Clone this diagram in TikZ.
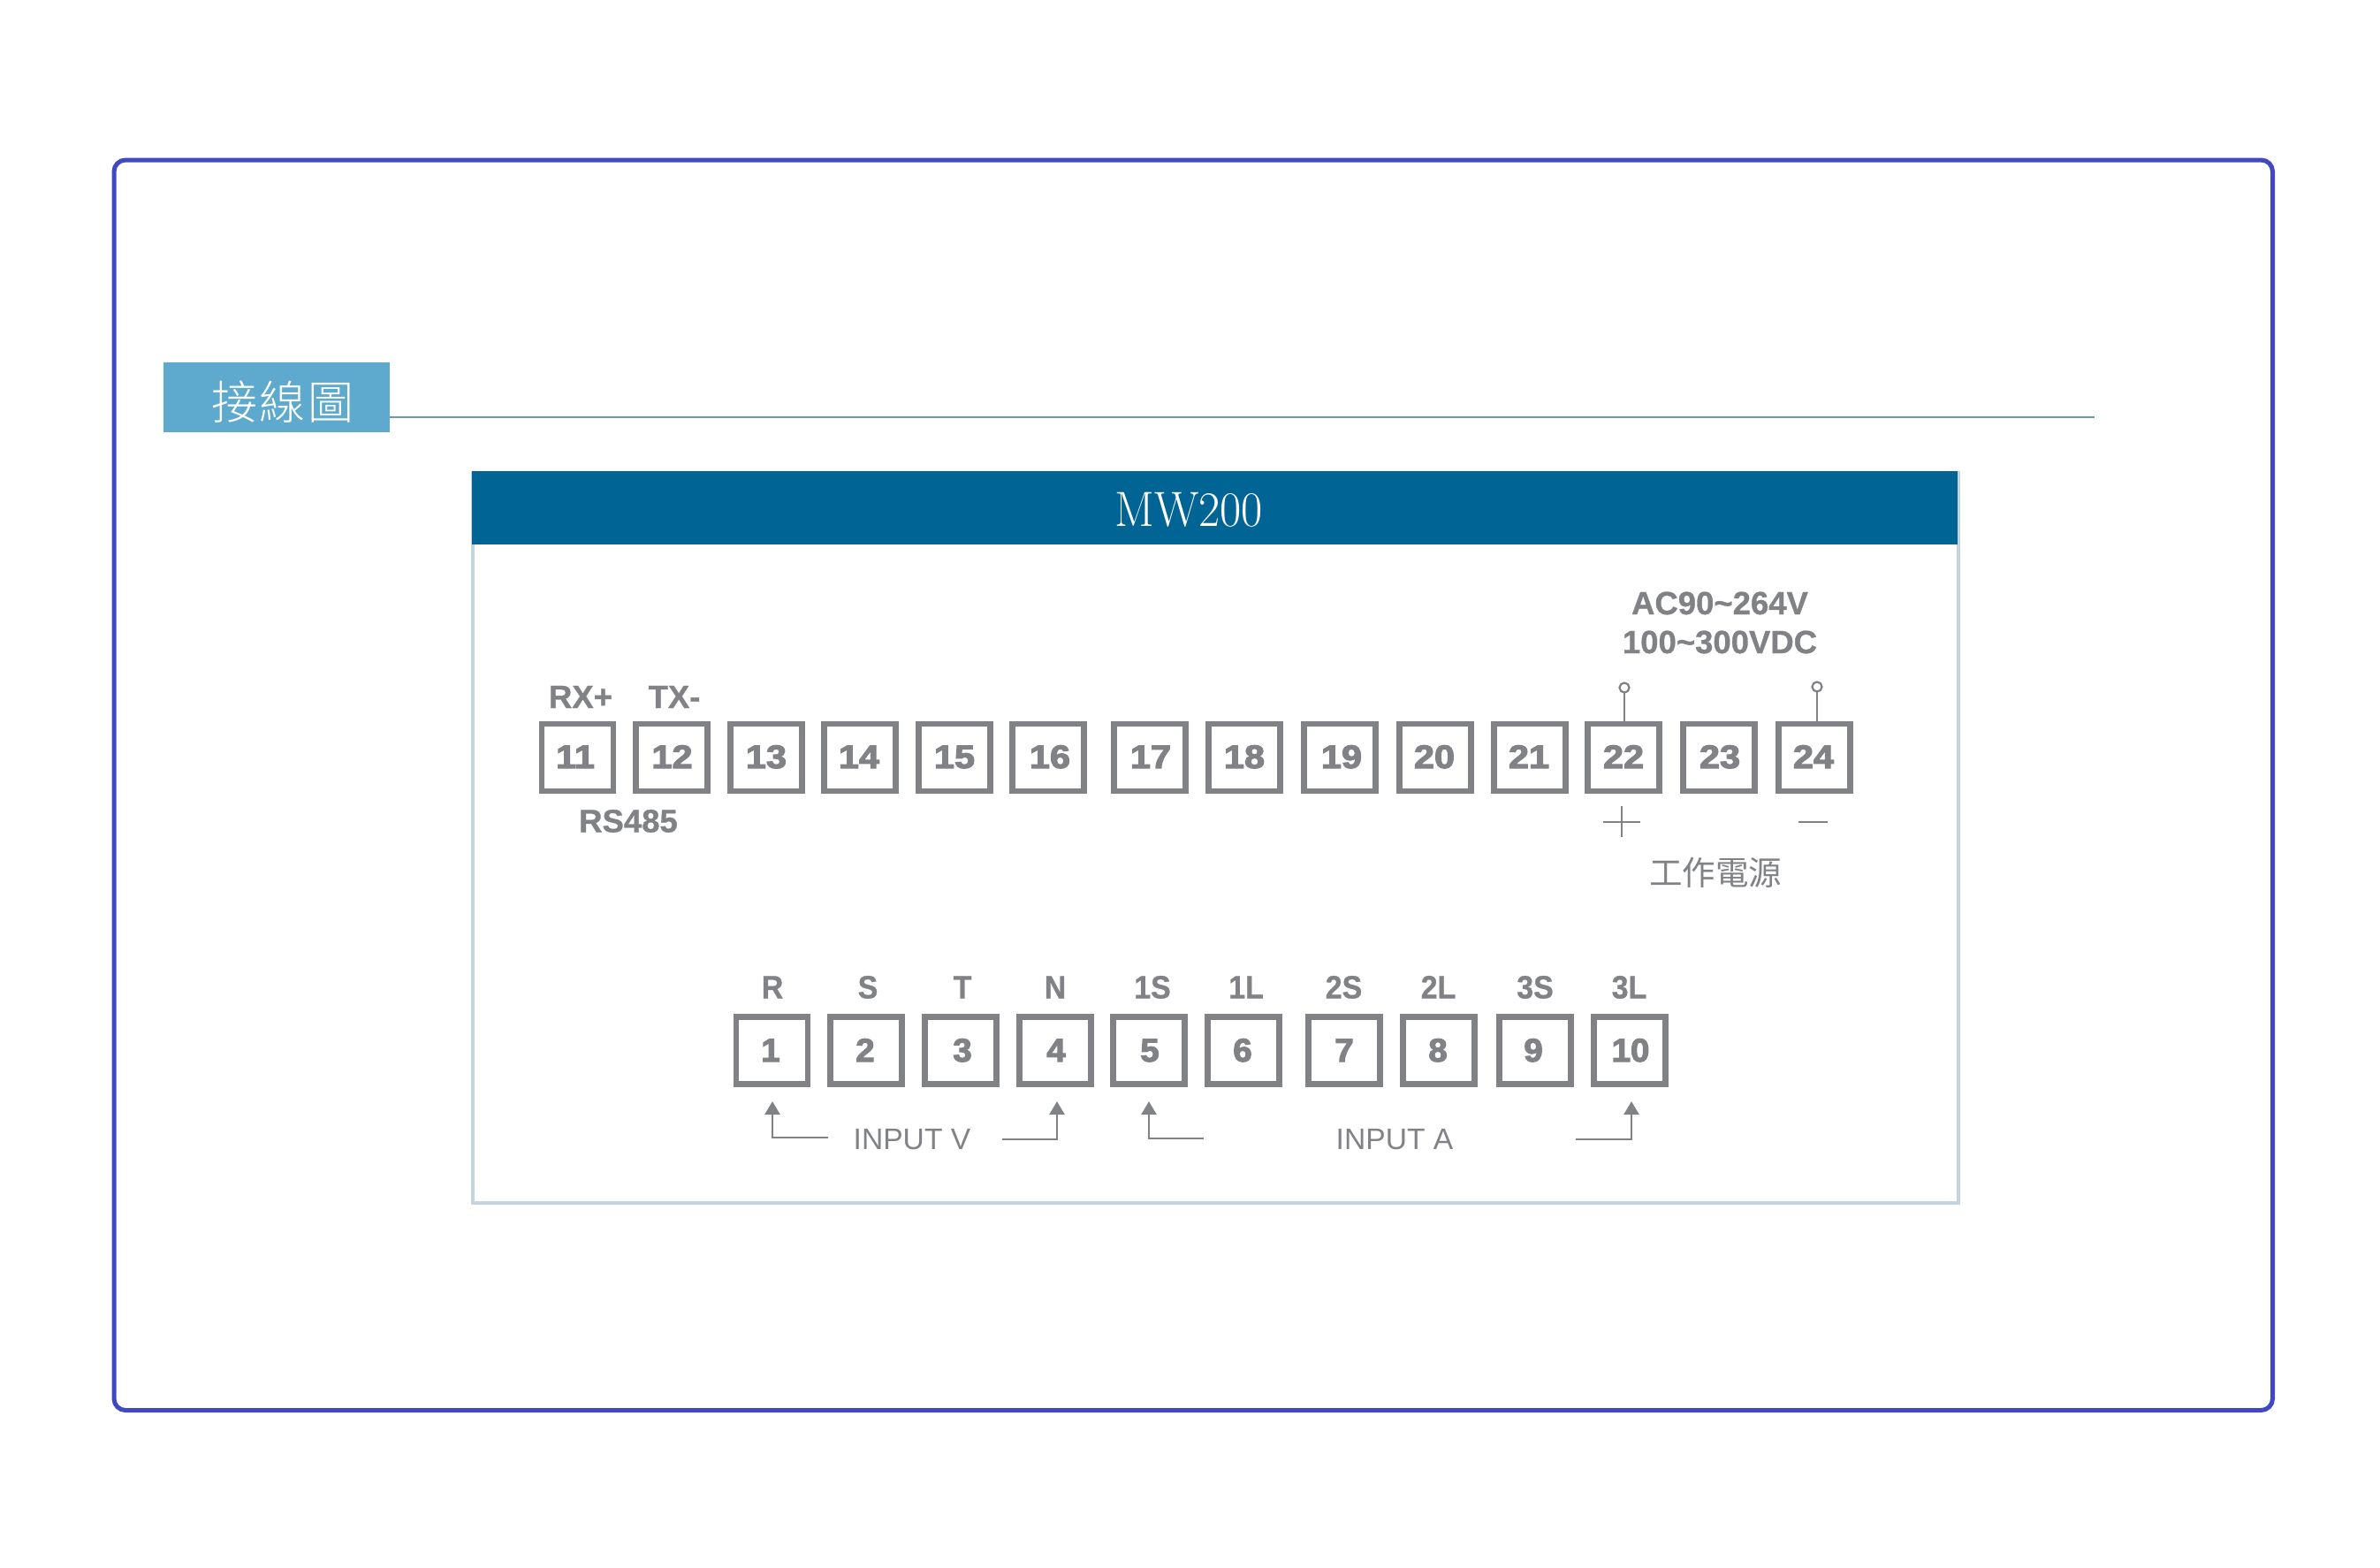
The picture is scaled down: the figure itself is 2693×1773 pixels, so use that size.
\documentclass[tikz,border=0pt]{standalone}
\usepackage{fontspec}
\setmainfont{Liberation Sans}
\newfontfamily\cjk{Noto Sans CJK TC}
\newfontfamily\cjklight[LetterSpace=5]{Noto Sans CJK TC Light}
\newfontfamily\serifface{Latin Modern Roman}
\newfontfamily\heavy[FakeBold=3,UprightFont={* Bold}]{Liberation Sans}
\newfontfamily\medheavy[FakeBold=0.8,UprightFont={* Bold}]{Liberation Sans}
\definecolor{framec}{HTML}{4049C2}
\definecolor{badge}{HTML}{5EA9CE}
\definecolor{headc}{HTML}{006595}
\definecolor{panelc}{HTML}{C5D5E0}
\definecolor{rulec}{HTML}{6E98A8}
\definecolor{greyc}{HTML}{808285}
\tikzset{
  x=1pt,y=-1pt,
  term/.style={draw=greyc,line width=6.8pt,fill=white,minimum width=81pt,minimum height=76pt,inner sep=0pt,outer sep=0pt},
  num/.style={text=greyc,font=\heavy\fontsize{37}{37}\selectfont,inner sep=0pt,anchor=base},
  wide/.style={xscale=1.12},
  lab/.style={text=greyc,font=\medheavy\fontsize{36.5}{36.5}\selectfont,inner sep=0pt,anchor=base},
  sig/.style={lab,xscale=0.93},
  plain/.style={text=greyc,font=\fontsize{33.6}{33.6}\selectfont,inner sep=0pt},
  wire/.style={draw=greyc,line width=2.6pt},
  arrowline/.style={wire,-{Triangle[length=15pt,width=17pt]}},
  pin/.style={circle,draw=greyc,line width=2.2pt,fill=white,minimum size=11pt,inner sep=0pt,outer sep=0pt},
}
\usetikzlibrary{arrows.meta}
\begin{document}
\begin{tikzpicture}
\useasboundingbox (0,0) rectangle (2693,1773);
\fill[white] (0,0) rectangle (2693,1773);
\draw[framec,line width=5pt,rounded corners=13pt] (129,181) rectangle (2571.5,1595.5);
% heading
\node[fill=badge,minimum width=256pt,minimum height=79pt,inner sep=0pt,outer sep=0pt] (badge) at (313,449.5) {};
\node[text=white,font=\cjklight\fontsize{52}{52}\selectfont,inner sep=0pt] (badgetext) at (320,455) {接線圖};
\coordinate (ruleend) at (2370,472);
\draw[rulec,line width=1.6pt] (badge.east |- ruleend) -- (ruleend);
% panel
\draw[panelc,line width=4pt,fill=white] (535,535) rectangle (2216,1361);
\node[fill=headc,minimum width=1681pt,minimum height=83pt,inner sep=0pt,outer sep=0pt] (head) at (1374.5,574.5) {};
\node[text=white,font=\serifface\fontsize{56}{56}\selectfont,inner sep=0pt,xscale=0.94] (title) at (1345,576.5) {MW200};
% top terminals
\foreach \n/\x/\tx in {11/653.5/651,12/760/760.5,13/867/867,14/973/972,15/1080/1080,16/1186/1188,17/1301/1302,18/1408/1408,19/1516/1518,20/1624/1623,21/1731/1730,22/1837/1837,23/1945/1946,24/2053/2052}{
  \node[term] (t\n) at (\x,857) {};
  \node[num,wide] (tn\n) at (\tx,869) {\n};
}
% bottom terminals
\foreach \n/\x/\tx in {1/873.5/872,2/980/979,3/1087/1089,4/1194/1195,5/1300/1301,6/1407/1406,7/1521/1521,8/1628/1627,9/1737/1735,10/1844/1845}{
  \node[term] (b\n) at (\x,1188.5) {};
  \node[num,xscale=1.04] (bn\n) at (\tx,1201) {\n};
}
% top labels
\node[lab] (rx) at (657,801) {RX+};
\node[lab] (tx) at (763,801) {TX-};
\node[lab] (rs) at (711,941.5) {RS485};
\node[lab] (ac) at (1946,695) {AC90\char`\~264V};
\node[lab] (dc) at (1946,739) {100\char`\~300VDC};
\node[text=greyc,font=\cjk\fontsize{37.5}{37.5}\selectfont,inner sep=0pt] (power) at (1941,987) {工作電源};
% pins
\node[pin] (p22) at (1838,778) {};
\node[pin] (p24) at (2056,777) {};
\draw[wire] (p22.south) -- (p22.south |- t22.north);
\draw[wire] (p24.south) -- (p24.south |- t24.north);
% plus and minus
\coordinate (plusc) at (1835,930);
\draw[wire] ([xshift=-21pt]plusc) -- ([xshift=21pt]plusc);
\draw[wire] ([yshift=-17pt]plusc) -- ([yshift=18pt]plusc);
\coordinate (minusl) at (2035,930);
\coordinate (minusr) at (2068,930);
\draw[wire] (minusl) -- (minusr);
% signal labels
\foreach \t/\x/\nm in {R/874/sa,S/982/sb,T/1089/sc,N/1194/sd,1S/1304/se,1L/1410/sf,2S/1520.5/sg,2L/1627.5/sh,3S/1737/si,3L/1843.5/sj}{
  \node[sig] (\nm) at (\x,1129.5) {\t};
}
% inputs
\node[plain] (inv) at (1032,1289) {INPUT V};
\node[plain] (ina) at (1578,1289) {INPUT A};
\coordinate (a1) at (874,1246);
\coordinate (a1s) at (937,1287);
\coordinate (a4) at (1196,1246);
\coordinate (a4s) at (1134,1289);
\coordinate (a5) at (1300,1246);
\coordinate (a5s) at (1362,1288);
\coordinate (a10) at (1846,1246);
\coordinate (a10s) at (1783,1289);
\draw[arrowline] (a1s) -| (a1);
\draw[arrowline] (a4s) -| (a4);
\draw[arrowline] (a5s) -| (a5);
\draw[arrowline] (a10s) -| (a10);
\end{tikzpicture}
\end{document}
